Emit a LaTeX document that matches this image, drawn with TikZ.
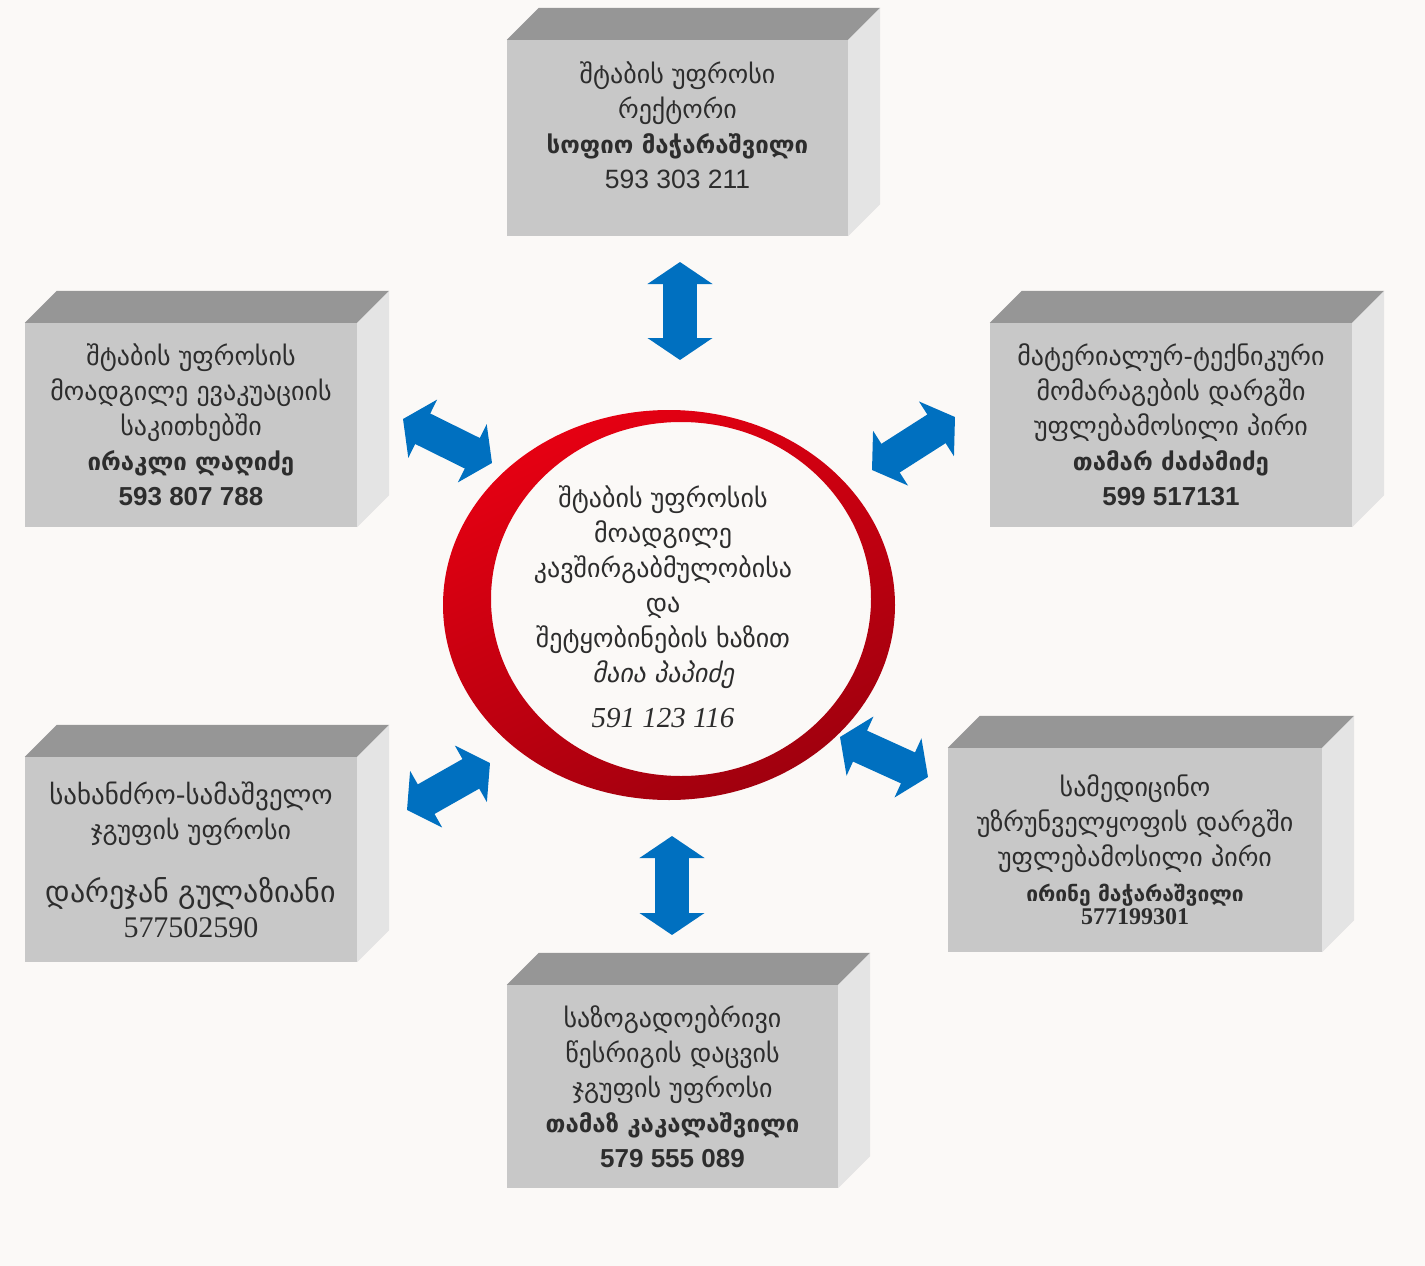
\documentclass[tikz,border=0pt]{standalone}
\usepackage{fontspec}
\setmainfont{DejaVu Sans}
\newfontfamily\num{Liberation Sans}
\newfontfamily\numserif{Liberation Serif}
\newfontfamily\geoit[FakeSlant=0.2]{DejaVu Sans}
\usetikzlibrary{arrows.meta}

\definecolor{bg}{RGB}{251,249,247}
\definecolor{front}{RGB}{200,200,200}
\definecolor{topf}{RGB}{150,150,150}
\definecolor{sidef}{RGB}{228,228,228}
\definecolor{ink}{RGB}{45,45,45}
\definecolor{arrblue}{RGB}{0,112,192}
\definecolor{ringred}{RGB}{230,0,18}
\definecolor{ringdark}{RGB}{160,0,14}

\tikzset{
  box/.style={fill=front, inner sep=0pt, text=ink, align=center,
    font=\fontsize{26}{35}\selectfont},
  txt/.style={text=ink, align=center, inner sep=0pt,
    font=\fontsize{26}{35}\selectfont},
  dblarrow/.style={arrblue, line width=34pt,
    {Triangle[length=22pt,width=64pt]}-{Triangle[length=22pt,width=64pt]}}
}

% top and side of a box
\newcommand\boxfaces[1]{
  \fill[topf] (#1.north west) -- ++(32,-32) -- ([shift={(32,-32)}]#1.north east) -- (#1.north east) -- cycle;
  \fill[sidef] (#1.north east) -- ++(32,-32) -- ([shift={(32,-32)}]#1.south east) -- (#1.south east) -- cycle;
}
\newcommand\bname[1]{{\bfseries\fontsize{24}{35}\selectfont #1}}

\begin{document}
\begin{tikzpicture}[x=1pt,y=-1pt]
  \useasboundingbox (0,0) rectangle (1425,1266);
  \fill[bg] (0,0) rectangle (1425,1266);

  % boxes
  \node[box, minimum width=341, minimum height=196] at (677.5,138) (chief) {};
  \node[txt] at (677.5,125) (chiefTxt) {შტაბის  უფროსი\\ რექტორი\\ \bname{სოფიო  მაჭარაშვილი}\\ {\num\fontsize{26.5}{35}\selectfont 593 303 211}};
  \node[box, minimum width=332, minimum height=204] at (191,425) (evac) {შტაბის უფროსის\\ მოადგილე ევაკუაციის\\ საკითხებში\\ \bname{ირაკლი ლაღიძე}\\ {\num\bfseries\fontsize{26}{30}\selectfont 593 807 788}};
  \node[box, minimum width=362, minimum height=204] at (1171,425) (supply) {მატერიალურ-ტექნიკური\\ მომარაგების დარგში\\ უფლებამოსილი პირი\\ \bname{თამარ ძაძამიძე}\\ {\num\bfseries\fontsize{26}{30}\selectfont 599 517131}};
  \node[box, minimum width=332, minimum height=205] at (191,859.5) (fire) {{\fontsize{27}{35}\selectfont სახანძრო-სამაშველო}\\ ჯგუფის უფროსი\\[28pt] {\fontsize{30}{35}\selectfont დარეჯან გულაზიანი}\\ {\numserif\fontsize{30}{33}\selectfont 577502590}};
  \node[box, minimum width=374, minimum height=204] at (1135,850) (medic) {სამედიცინო\\ უზრუნველყოფის დარგში\\ უფლებამოსილი პირი\\ {\bfseries\fontsize{21}{22}\selectfont ირინე მაჭარაშვილი}\\[-12pt] {\numserif\bfseries\fontsize{24}{22}\selectfont 577199301}};
  \node[box, minimum width=331, minimum height=203] at (672.5,1086.5) (order) {საზოგადოებრივი\\ წესრიგის დაცვის\\ ჯგუფის უფროსი\\ \bname{თამაზ კაკალაშვილი}\\ {\num\bfseries\fontsize{26}{30}\selectfont 579 555 089}};

  \boxfaces{chief}
  \boxfaces{evac}
  \boxfaces{supply}
  \boxfaces{fire}
  \boxfaces{medic}
  \boxfaces{order}

  % red ring
  \shade[even odd rule, top color=ringred, bottom color=ringdark, shading angle=25]
    (669,605) ellipse [x radius=226, y radius=195]
    (681,599) ellipse [x radius=190, y radius=177];
  \node[txt] at (663,607) (deputy) {შტაბის უფროსის\\ მოადგილე\\ კავშირგაბმულობისა\\ და\\ შეტყობინების ხაზით\\ {\geoit მაია პაპიძე}\\[10pt] {\numserif\itshape\fontsize{29}{35}\selectfont 591 123 116}};

  % arrow ends
  \coordinate (chiefEnd) at (680,262);
  \coordinate (chiefRing) at (680,360);
  \coordinate (evacEnd) at (403,419);
  \coordinate (evacRing) at (492,463);
  \coordinate (supplyEnd) at (955,417);
  \coordinate (supplyRing) at (872,470);
  \coordinate (fireEnd) at (407,810);
  \coordinate (fireRing) at (490,763);
  \coordinate (medicEnd) at (928,777);
  \coordinate (medicRing) at (840,737);
  \coordinate (orderEnd) at (672,935);
  \coordinate (orderRing) at (672,836);

  % draw edges
  \draw[dblarrow] (chiefEnd) -- (chiefRing);
  \draw[dblarrow] (evacEnd) -- (evacRing);
  \draw[dblarrow] (supplyEnd) -- (supplyRing);
  \draw[dblarrow] (fireEnd) -- (fireRing);
  \draw[dblarrow] (medicEnd) -- (medicRing);
  \draw[dblarrow] (orderEnd) -- (orderRing);
\end{tikzpicture}
\end{document}
